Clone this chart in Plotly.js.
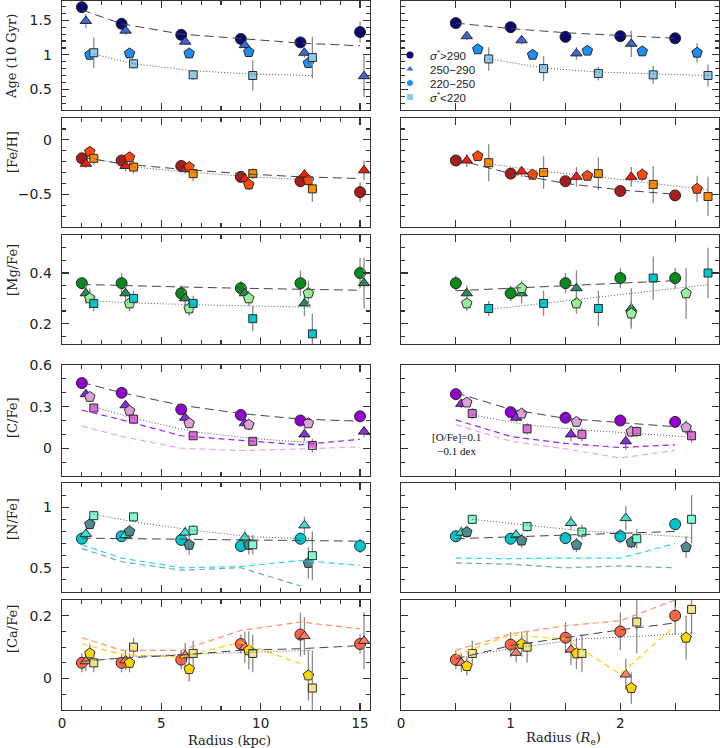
<!DOCTYPE html>
<html><head><meta charset="utf-8">
<script src="https://cdn.plot.ly/plotly-3.0.1.min.js"></script>
<style>html,body{margin:0;padding:0;background:#fff}#chart{width:720px;height:748px}</style>
</head><body><div id="chart"></div>
<script>
// ---------- radii ----------
const xL_c = [1, 3, 6, 9, 12, 15];
const xL_t = [1.2, 3.2, 6.2, 9.2, 12.2, 15.2];
const xL_p = [1.4, 3.4, 6.4, 9.4, 12.4];
const xL_s = [1.6, 3.6, 6.6, 9.6, 12.6];
const xR_c = [0.5, 1.0, 1.5, 2.0, 2.5];
const xR_tW = [0.6, 1.1, 1.6, 2.1];
const xR_pW = [0.7, 1.2, 1.7, 2.2, 2.7];
const xR_sW = [0.8, 1.3, 1.8, 2.3, 2.8];
const xR_pMg = [0.6, 1.1, 1.6, 2.1, 2.6];
const xR_tN = [0.55, 1.05, 1.55, 2.05];
const xR_pN = [0.6, 1.1, 1.6, 2.1, 2.6];
const xR_sN = [0.65, 1.15, 1.65, 2.15, 2.65];

// ---------- Age ----------
const age_L_c = [1.69, 1.45, 1.29, 1.23, 1.18, 1.33], age_L_ce = [0.05, 0.04, 0.04, 0.05, 0.05, 0.15];
const age_L_t = [1.49, 1.35, 1.19, 1.14, 1.03, 0.69], age_L_te = [0.1, 0.06, 0.04, 0.05, 0.07, 0.3];
const age_L_p = [1.00, 1.02, 1.02, 1.04, 0.88], age_L_pe = [0.05, 0.05, 0.05, 0.06, 0.06];
const age_L_s = [1.03, 0.87, 0.71, 0.70, 0.96], age_L_se = [0.22, 0.07, 0.07, 0.22, 0.3];
const age_R_c = [1.46, 1.40, 1.26, 1.27, 1.24], age_R_ce = [0.03, 0.04, 0.04, 0.04, 0.06];
const age_R_t = [1.27, 1.21, 1.02, 1.16], age_R_te = [0.06, 0.06, 0.09, 0.19];
const age_R_p = [1.08, 1.00, 1.06, 1.05, 1.03], age_R_pe = [0.05, 0.05, 0.05, 0.07, 0.14];
const age_R_s = [0.94, 0.80, 0.73, 0.71, 0.70], age_R_se = [0.17, 0.18, 0.1, 0.13, 0.16];
const age_L_fitHi = [1.65, 1.45, 1.30, 1.23, 1.17, 1.13];
const age_L_fitLo = [1.01, 0.87, 0.77, 0.72, 0.70];
const age_R_fitHi = [1.46, 1.38, 1.32, 1.28, 1.24];
const age_R_fitLo = [0.94, 0.81, 0.75, 0.72, 0.70];

// ---------- [Fe/H] ----------
const fe_L_c = [-0.17, -0.19, -0.24, -0.34, -0.38, -0.48], fe_L_ce = [0.03, 0.03, 0.03, 0.04, 0.05, 0.09];
const fe_L_t = [-0.22, -0.24, -0.27, -0.36, -0.32, -0.28], fe_L_te = [0.04, 0.05, 0.04, 0.04, 0.05, 0.09];
const fe_L_p = [-0.11, -0.16, -0.25, -0.41, -0.37], fe_L_pe = [0.04, 0.04, 0.04, 0.05, 0.05];
const fe_L_s = [-0.17, -0.25, -0.31, -0.31, -0.45], fe_L_se = [0.06, 0.06, 0.07, 0.05, 0.12];
const fe_R_c = [-0.19, -0.31, -0.38, -0.47, -0.51], fe_R_ce = [0.04, 0.03, 0.04, 0.03, 0.04];
const fe_R_t = [-0.19, -0.29, -0.34, -0.34], fe_R_te = [0.06, 0.05, 0.09, 0.09];
const fe_R_p = [-0.15, -0.32, -0.33, -0.32, -0.45], fe_R_pe = [0.04, 0.05, 0.04, 0.06, 0.12];
const fe_R_s = [-0.21, -0.30, -0.31, -0.41, -0.52], fe_R_se = [0.17, 0.15, 0.15, 0.17, 0.18];
const fe_L_fitHi = [-0.16, -0.22, -0.27, -0.31, -0.34, -0.355];
const fe_L_fitLo = [-0.17, -0.25, -0.30, -0.34, -0.37];
const fe_R_fitHi = [-0.18, -0.31, -0.40, -0.46, -0.50];
const fe_R_fitLo = [-0.22, -0.29, -0.34, -0.40, -0.46];

// ---------- [Mg/Fe] ----------
const mg_L_c = [0.36, 0.36, 0.32, 0.34, 0.36, 0.40], mg_L_ce = [0.02, 0.04, 0.03, 0.03, 0.05, 0.06];
const mg_L_t = [0.32, 0.32, 0.30, 0.32, 0.28, 0.36], mg_L_te = [0.04, 0.03, 0.03, 0.03, 0.05, 0.1];
const mg_L_p = [0.30, 0.28, 0.26, 0.30, 0.32], mg_L_pe = [0.04, 0.03, 0.03, 0.03, 0.05];
const mg_L_s = [0.28, 0.30, 0.28, 0.22, 0.16], mg_L_se = [0.03, 0.03, 0.03, 0.05, 0.08];
const mg_R_c = [0.36, 0.32, 0.36, 0.38, 0.38], mg_R_ce = [0.03, 0.03, 0.04, 0.04, 0.04];
const mg_R_t = [0.32, 0.32, 0.34, 0.26], mg_R_te = [0.03, 0.04, 0.07, 0.08];
const mg_R_p = [0.28, 0.34, 0.28, 0.24, 0.32], mg_R_pe = [0.03, 0.03, 0.04, 0.05, 0.1];
const mg_R_s = [0.26, 0.28, 0.26, 0.38, 0.40], mg_R_se = [0.03, 0.05, 0.07, 0.085, 0.1];
const mg_L_fitHi = [0.355, 0.352, 0.345, 0.34, 0.335, 0.332];
const mg_L_fitLo = [0.29, 0.282, 0.275, 0.27, 0.265];
const mg_R_fitHi = [0.33, 0.34, 0.35, 0.36, 0.37];
const mg_R_fitLo = [0.256, 0.281, 0.305, 0.33, 0.354];

// ---------- [C/Fe] ----------
const c_L_c = [0.47, 0.40, 0.28, 0.24, 0.20, 0.23], c_L_ce = [0.02, 0.02, 0.03, 0.03, 0.03, 0.03];
const c_L_t = [0.39, 0.31, 0.22, 0.18, 0.10, 0.12], c_L_te = [0.03, 0.03, 0.03, 0.04, 0.05, 0.04];
const c_L_p = [0.37, 0.27, 0.18, 0.17, 0.18], c_L_pe = [0.02, 0.03, 0.03, 0.04, 0.03];
const c_L_s = [0.29, 0.21, 0.09, 0.05, 0.02], c_L_se = [0.03, 0.03, 0.03, 0.03, 0.05];
const c_R_c = [0.39, 0.26, 0.22, 0.20, 0.19], c_R_ce = [0.02, 0.03, 0.03, 0.03, 0.04];
const c_R_t = [0.32, 0.22, 0.10, 0.05], c_R_te = [0.03, 0.03, 0.05, 0.06];
const c_R_p = [0.33, 0.25, 0.19, 0.12, 0.15], c_R_pe = [0.03, 0.03, 0.03, 0.04, 0.05];
const c_R_s = [0.25, 0.14, 0.10, 0.12, 0.09], c_R_se = [0.04, 0.04, 0.05, 0.04, 0.05];
const c_L_fitHi = [0.475, 0.40, 0.31, 0.25, 0.21, 0.195];
const c_L_fitLo = [0.30, 0.215, 0.12, 0.07, 0.04];
const c_R_fitHi = [0.40, 0.28, 0.215, 0.185, 0.155];
const c_R_fitLo = [0.24, 0.168, 0.132, 0.108, 0.08];
const c_L_modHi = [0.275, 0.205, 0.09, 0.055, 0.025, 0.065];
const c_L_modLo = [0.16, 0.085, 0.0, -0.017, -0.005, 0.01];
const c_R_modHi = [0.205, 0.085, 0.035, 0.005, 0.025];
const c_R_modLo = [0.17, 0.05, -0.005, -0.07, -0.015];

// ---------- [N/Fe] ----------
const n_L_c = [0.74, 0.76, 0.73, 0.68, 0.74, 0.68], n_L_ce = [0.05, 0.04, 0.05, 0.05, 0.05, 0.06];
const n_L_t = [0.78, 0.77, 0.79, 0.75, 0.85], n_L_te = [0.04, 0.05, 0.05, 0.06, 0.07];
const n_L_p = [0.86, 0.80, 0.69, 0.69, 0.54], n_L_pe = [0.04, 0.05, 0.08, 0.08, 0.13];
const n_L_s = [0.93, 0.92, 0.81, 0.69, 0.60], n_L_se = [0.04, 0.04, 0.04, 0.08, 0.2];
const n_R_c = [0.76, 0.74, 0.745, 0.76, 0.86], n_R_ce = [0.05, 0.05, 0.05, 0.06, 0.05];
const n_R_t = [0.79, 0.77, 0.87, 0.91], n_R_te = [0.05, 0.05, 0.06, 0.1];
const n_R_p = [0.795, 0.725, 0.69, 0.71, 0.67], n_R_pe = [0.05, 0.06, 0.06, 0.05, 0.09];
const n_R_s = [0.90, 0.84, 0.795, 0.74, 0.90], n_R_se = [0.04, 0.04, 0.06, 0.08, 0.2];
const n_L_fitHi = [0.745, 0.74, 0.735, 0.73, 0.725, 0.72];
const n_L_fitLo = [0.94, 0.88, 0.81, 0.755, 0.74];
const n_R_fitHi = [0.74, 0.755, 0.77, 0.785, 0.80];
const n_R_fitLo = [0.90, 0.855, 0.805, 0.78, 0.75];
const n_L_modHi = [0.69, 0.58, 0.50, 0.51, 0.56, 0.52];
const n_L_modLo = [0.66, 0.55, 0.48, 0.50, 0.35];
const n_R_modHi = [0.58, 0.575, 0.58, 0.58, 0.70];
const n_R_modLo = [0.54, 0.53, 0.50, 0.515, 0.50];

// ---------- [Ca/Fe] ----------
const ca_L_c = [0.05, 0.05, 0.06, 0.11, 0.14, 0.11], ca_L_ce = [0.03, 0.03, 0.03, 0.03, 0.07, 0.03];
const ca_L_t = [0.055, 0.058, 0.074, 0.10, 0.135, 0.12], ca_L_te = [0.03, 0.03, 0.04, 0.05, 0.06, 0.09];
const ca_L_p = [0.08, 0.05, 0.03, 0.09, 0.01], ca_L_pe = [0.03, 0.03, 0.04, 0.06, 0.08];
const ca_L_s = [0.05, 0.10, 0.08, 0.08, -0.03], ca_L_se = [0.03, 0.03, 0.04, 0.06, 0.12];
const ca_R_c = [0.06, 0.108, 0.13, 0.15, 0.20], ca_R_ce = [0.03, 0.04, 0.05, 0.06, 0.06];
const ca_R_t = [0.05, 0.082, 0.092, 0.013], ca_R_te = [0.03, 0.03, 0.05, 0.05];
const ca_R_p = [0.04, 0.11, 0.08, -0.03, 0.13], ca_R_pe = [0.03, 0.04, 0.05, 0.05, 0.07];
const ca_R_s = [0.08, 0.10, 0.08, 0.18, 0.22], ca_R_se = [0.04, 0.05, 0.06, 0.1, 0.08];
const ca_L_fitHi = [0.055, 0.065, 0.075, 0.09, 0.095, 0.105];
const ca_L_fitLo = [0.058, 0.07, 0.078, 0.085, 0.09];
const ca_R_fitHi = [0.063, 0.105, 0.13, 0.155, 0.177];
const ca_R_fitLo = [0.076, 0.103, 0.126, 0.134, 0.145];
const ca_L_modHi = [0.13, 0.09, 0.09, 0.153, 0.18, 0.158];
const ca_L_modLo = [0.11, 0.077, 0.068, 0.116, 0.047];
const ca_R_modHi = [0.09, 0.142, 0.168, 0.184, 0.25];
const ca_R_modLo = [0.074, 0.139, 0.126, 0.014, 0.168];

// ---------- labels ----------
const rowTitles = ['Age (10 Gyr)', '[Fe/H]', '[Mg/Fe]', '[C/Fe]', '[N/Fe]', '[Ca/Fe]'];
const legendNames = ['<i>σ</i><sup>*</sup>&gt;290', '250−290', '220−250', '<i>σ</i><sup>*</sup>&lt;220'];

// ---------- styling ----------
const symbols = ['circle', 'triangle-up', 'pentagon', 'square'];
const sizes = [11, 10, 11, 8];
const rowColors = [
  ['#0a0a6e', '#3f66d8', '#1e8ef5', '#8ccbec'],
  ['#a81c1c', '#ff1a0a', '#ff4a0a', '#ff8c00'],
  ['#0a8a1e', '#2e8b57', '#98f09a', '#00c8d0'],
  ['#9400d3', '#8a2be2', '#dda0dd', '#da70d6'],
  ['#00c5cd', '#40e0d0', '#4f8a90', '#7fffd4'],
  ['#ff6347', '#fa8072', '#ffd700', '#f0e68c']
];
const modelColors = [null, null, null, ['#a020f0', '#e8a8e8'], ['#30d8e0', '#6aaeb0'], ['#ff8c69', '#ffd000']];

const rowPix = [[1, 110], [118, 227], [235, 344], [365, 476], [483, 592], [600, 710]];
const colPix = [[62, 370], [401, 719]];
const yRanges = [[0.2, 1.78], [-0.8, 0.2], [0.12, 0.55], [-0.2, 0.6001], [0.3, 1.2], [-0.1, 0.25]];
const yDticks = [[0.5, 0.1], [0.5, 0.1], [0.2, 0.05], [0.3, 0.1], [0.5, 0.1], [0.2, 0.05]];
const legendRowPix = [55, 69, 83, 97];
const W = 720, H = 748;

const panels = [
  [0, 0, [[xL_c, age_L_c, age_L_ce], [xL_t, age_L_t, age_L_te], [xL_p, age_L_p, age_L_pe], [xL_s, age_L_s, age_L_se]], [xL_c, age_L_fitHi], [xL_s, age_L_fitLo], null],
  [0, 1, [[xR_c, age_R_c, age_R_ce], [xR_tW, age_R_t, age_R_te], [xR_pW, age_R_p, age_R_pe], [xR_sW, age_R_s, age_R_se]], [xR_c, age_R_fitHi], [xR_sW, age_R_fitLo], null],
  [1, 0, [[xL_c, fe_L_c, fe_L_ce], [xL_t, fe_L_t, fe_L_te], [xL_p, fe_L_p, fe_L_pe], [xL_s, fe_L_s, fe_L_se]], [xL_c, fe_L_fitHi], [xL_s, fe_L_fitLo], null],
  [1, 1, [[xR_c, fe_R_c, fe_R_ce], [xR_tW, fe_R_t, fe_R_te], [xR_pW, fe_R_p, fe_R_pe], [xR_sW, fe_R_s, fe_R_se]], [xR_c, fe_R_fitHi], [xR_sW, fe_R_fitLo], null],
  [2, 0, [[xL_c, mg_L_c, mg_L_ce], [xL_t, mg_L_t, mg_L_te], [xL_p, mg_L_p, mg_L_pe], [xL_s, mg_L_s, mg_L_se]], [xL_c, mg_L_fitHi], [xL_s, mg_L_fitLo], null],
  [2, 1, [[xR_c, mg_R_c, mg_R_ce], [xR_tW, mg_R_t, mg_R_te], [xR_pMg, mg_R_p, mg_R_pe], [xR_sW, mg_R_s, mg_R_se]], [xR_c, mg_R_fitHi], [xR_sW, mg_R_fitLo], null],
  [3, 0, [[xL_c, c_L_c, c_L_ce], [xL_t, c_L_t, c_L_te], [xL_p, c_L_p, c_L_pe], [xL_s, c_L_s, c_L_se]], [xL_c, c_L_fitHi], [xL_s, c_L_fitLo], [[xL_c, c_L_modHi], [xL_c, c_L_modLo]]],
  [3, 1, [[xR_c, c_R_c, c_R_ce], [xR_tN, c_R_t, c_R_te], [xR_pN, c_R_p, c_R_pe], [xR_sN, c_R_s, c_R_se]], [xR_c, c_R_fitHi], [xR_sN, c_R_fitLo], [[xR_c, c_R_modHi], [xR_c, c_R_modLo]]],
  [4, 0, [[xL_c, n_L_c, n_L_ce], [xL_t, n_L_t, n_L_te], [xL_p, n_L_p, n_L_pe], [xL_s, n_L_s, n_L_se]], [xL_c, n_L_fitHi], [xL_s, n_L_fitLo], [[xL_c, n_L_modHi], [xL_c, n_L_modLo]]],
  [4, 1, [[xR_c, n_R_c, n_R_ce], [xR_tN, n_R_t, n_R_te], [xR_pN, n_R_p, n_R_pe], [xR_sN, n_R_s, n_R_se]], [xR_c, n_R_fitHi], [xR_sN, n_R_fitLo], [[xR_c, n_R_modHi], [xR_c, n_R_modLo]]],
  [5, 0, [[xL_c, ca_L_c, ca_L_ce], [xL_t, ca_L_t, ca_L_te], [xL_p, ca_L_p, ca_L_pe], [xL_s, ca_L_s, ca_L_se]], [xL_c, ca_L_fitHi], [xL_s, ca_L_fitLo], [[xL_c, ca_L_modHi], [xL_c, ca_L_modLo]]],
  [5, 1, [[xR_c, ca_R_c, ca_R_ce], [xR_tN, ca_R_t, ca_R_te], [xR_pN, ca_R_p, ca_R_pe], [xR_sN, ca_R_s, ca_R_se]], [xR_c, ca_R_fitHi], [xR_sN, ca_R_fitLo], [[xR_c, ca_R_modHi], [xR_c, ca_R_modLo]]]
];

const traces = [];
const layout = {
  width: W, height: H, margin: {l: 0, r: 0, t: 0, b: 0},
  paper_bgcolor: '#fff', plot_bgcolor: '#fff',
  showlegend: true,
  annotations: [], font: {family: 'DejaVu Sans', color: '#222'}
};

function axBase() {
  return {showline: true, mirror: 'allticks', linecolor: '#333', linewidth: 1.4,
    ticks: 'inside', ticklen: 7, tickwidth: 1.3, tickcolor: '#333', showgrid: false, zeroline: false,
    tickfont: {family: 'DejaVu Sans', size: 14, color: '#222'}, fixedrange: true};
}

panels.forEach(([r, c, groups, fitHi, fitLo, models]) => {
  const k = r * 2 + c + 1;
  const sfx = k === 1 ? '' : String(k);
  const xa = Object.assign(axBase(), {
    domain: [colPix[c][0] / W, colPix[c][1] / W], anchor: 'y' + sfx,
    range: c === 0 ? [0, 15.5] : [0, 2.9],
    dtick: c === 0 ? 5 : 1, tick0: 0,
    minor: {dtick: c === 0 ? 1 : 0.5, ticks: 'inside', ticklen: c === 0 ? 4 : 7, tickwidth: 1.2, tickcolor: '#333', showgrid: false},
    showticklabels: r === 5, ticklabelstandoff: 0,
    tickfont: {family: 'DejaVu Sans', size: 13.5, color: '#222'}
  });
  const ya = Object.assign(axBase(), {
    domain: [1 - rowPix[r][1] / H, 1 - rowPix[r][0] / H], anchor: 'x' + sfx,
    range: yRanges[r], dtick: yDticks[r][0], tick0: 0,
    minor: {dtick: yDticks[r][1], ticks: 'inside', ticklen: 4, tickwidth: 1.2, tickcolor: '#333', showgrid: false},
    showticklabels: c === 0, ticklabelstandoff: 6
  });
  layout['xaxis' + sfx] = xa;
  layout['yaxis' + sfx] = ya;

  groups.forEach(([gx, gy, ge], g) => {
    traces.push({
      type: 'scatter', mode: 'markers', x: gx, y: gy, xaxis: 'x' + sfx, yaxis: 'y' + sfx, showlegend: false,
      marker: {symbol: symbols[g], size: sizes[g], color: rowColors[r][g], line: {color: '#1a1a1a', width: 0.9}},
      error_y: {type: 'data', array: ge, visible: true, color: '#8a8a8a', thickness: 1.3, width: 0},
      hoverinfo: 'skip'
    });
  });
  if (models) {
    models.forEach(([mx, my], m) => {
      traces.push({type: 'scatter', mode: 'lines', x: mx, y: my, xaxis: 'x' + sfx, yaxis: 'y' + sfx, showlegend: false,
        line: {color: modelColors[r][m], width: 1.2, dash: '6px,4px'}, hoverinfo: 'skip'});
    });
  }
  traces.push({type: 'scatter', mode: 'lines', x: fitHi[0], y: fitHi[1], xaxis: 'x' + sfx, yaxis: 'y' + sfx, showlegend: false,
    line: {color: '#444', width: 1, dash: '9px,5px'}, hoverinfo: 'skip'});
  traces.push({type: 'scatter', mode: 'lines', x: fitLo[0], y: fitLo[1], xaxis: 'x' + sfx, yaxis: 'y' + sfx, showlegend: false,
    line: {color: '#555', width: 1, dash: '1px,2px'}, hoverinfo: 'skip'});
});

// legend entries: one single-item legend per velocity-dispersion bin
legendNames.forEach((nm, g) => {
  const lid = g === 0 ? 'legend' : 'legend' + (g + 1);
  traces.push({type: 'scatter', mode: 'markers', x: [null], y: [null], xaxis: 'x2', yaxis: 'y2', name: nm, legend: lid,
    marker: {symbol: symbols[g], size: [7, 6, 7, 6][g], color: rowColors[0][g], line: {width: 0}}});
  layout[lid] = {x: 390 / W, y: 1 - legendRowPix[g] / H, xanchor: 'left', yanchor: 'middle',
    bgcolor: 'rgba(0,0,0,0)', borderwidth: 0, itemwidth: 30,
    font: {family: 'Liberation Sans, Arial', size: 11.5, color: '#222'}};
});

// row titles
const titleY = [57, 152, 270, 418, 519, 629];
rowTitles.forEach((t, i) => {
  layout.annotations.push({text: t, xref: 'paper', yref: 'paper', x: 12 / W, y: 1 - titleY[i] / H,
    xanchor: 'center', yanchor: 'middle', textangle: -90, showarrow: false,
    font: {family: 'DejaVu Serif', size: 13, color: '#222'}});
});
layout.annotations.push({text: 'Radius (kpc)', xref: 'paper', yref: 'paper', x: 229 / W, y: 1 - 740 / H,
  xanchor: 'center', yanchor: 'middle', showarrow: false, font: {family: 'DejaVu Serif', size: 13, color: '#222'}});
layout.annotations.push({text: 'Radius (<i>R</i><sub>e</sub>)', xref: 'paper', yref: 'paper', x: 563 / W, y: 1 - 738 / H,
  xanchor: 'center', yanchor: 'middle', showarrow: false, font: {family: 'DejaVu Serif', size: 13, color: '#222'}});
layout.annotations.push({text: '[O/Fe]=0.1<br>−0.1 dex', xref: 'paper', yref: 'paper', x: 456 / W, y: 1 - 444 / H,
  xanchor: 'center', yanchor: 'middle', align: 'center', showarrow: false,
  font: {family: 'Liberation Serif', size: 11, color: '#111'}});

Plotly.newPlot('chart', traces, layout, {staticPlot: true, displayModeBar: false});
</script></body></html>
